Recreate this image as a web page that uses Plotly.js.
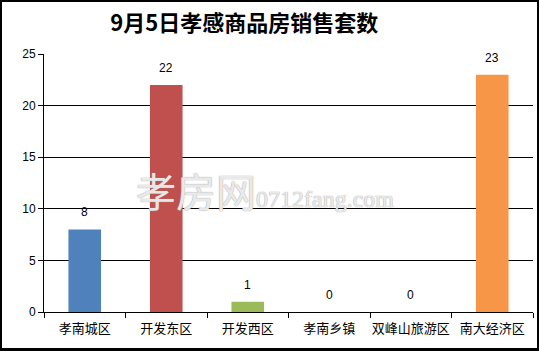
<!DOCTYPE html>
<html><head><meta charset="utf-8">
<script src="https://cdn.plot.ly/plotly-3.0.1.min.js"></script>
<style>
html,body{margin:0;padding:0;background:#fff;}
#wrap{position:relative;width:539px;height:351px;}
#chart{width:539px;height:351px;}
#frame{position:absolute;left:0;top:0;width:539px;height:351px;box-sizing:border-box;border:2px solid #000;border-bottom-width:3px;pointer-events:none;}
</style></head>
<body><div id="wrap"><div id="chart"></div><div id="frame"></div></div>
<script>
const categories = ['孝南城区','开发东区','开发西区','孝南乡镇','双峰山旅游区','南大经济区'];
const values = [8, 22, 1, 0, 0, 23];
const colors = ['#4F81BD','#C0504D','#9BBB59','#4F81BD','#4F81BD','#F79646'];
const yTicks = [0,5,10,15,20,25];
const titleText = '9月5日孝感商品房销售套数';

const trace = {
  type:'bar', x:categories, y:values,
  marker:{color:colors},
  width:0.4, hoverinfo:'none'
};
const labelAnns = categories.map((c,i)=>({
  x:c, y:values[i], xref:'x', yref:'y', text:String(values[i]), showarrow:false,
  yanchor:'bottom', yshift:8,
  font:{family:'Liberation Sans, Arial, sans-serif', size:12, color:'#000'}
}));
const layout = {
  width:539, height:351,
  margin:{l:44, r:6, t:54, b:39},
  paper_bgcolor:'#fff', plot_bgcolor:'#fff',
  showlegend:false,
  title:{text:'<b>'+titleText+'</b>', x:0.453, xanchor:'center', y:0.935, yanchor:'middle',
    font:{family:'Noto Sans CJK SC, serif', size:22, color:'#000'}},
  xaxis:{type:'category', showline:true, linecolor:'#000', linewidth:1,
    ticks:'outside', tickson:'boundaries', ticklen:5, tickcolor:'#000',
    ticklabelstandoff:4, tickangle:0,
    tickfont:{family:'Noto Sans CJK SC, sans-serif', size:13, color:'#000'},
    showgrid:false, fixedrange:true},
  yaxis:{range:[0,25], tickvals:yTicks, showline:true, linecolor:'#000', linewidth:1,
    ticks:'outside', ticklen:5, tickcolor:'#000', showgrid:true, gridcolor:'#000', gridwidth:1,
    zeroline:false, tickfont:{family:'Liberation Sans, Arial, sans-serif', size:12, color:'#000'},
    fixedrange:true},
  annotations:[{xref:'paper', yref:'paper', x:0.452, y:0.473, xanchor:'center', yanchor:'middle',
    text:'孝房网<span style="font-size:24px;font-family:Liberation Serif,serif">0712fang.com</span>', showarrow:false,
    font:{family:'Noto Sans CJK SC, serif', size:40, color:'rgba(255,255,255,0.8)',
      shadow:'0px 0px 1px #999, 0px 0px 1px #999'}}].concat(labelAnns)
};
Plotly.newPlot('chart',[trace],layout,{displayModeBar:false,staticPlot:true});
</script></body></html>
